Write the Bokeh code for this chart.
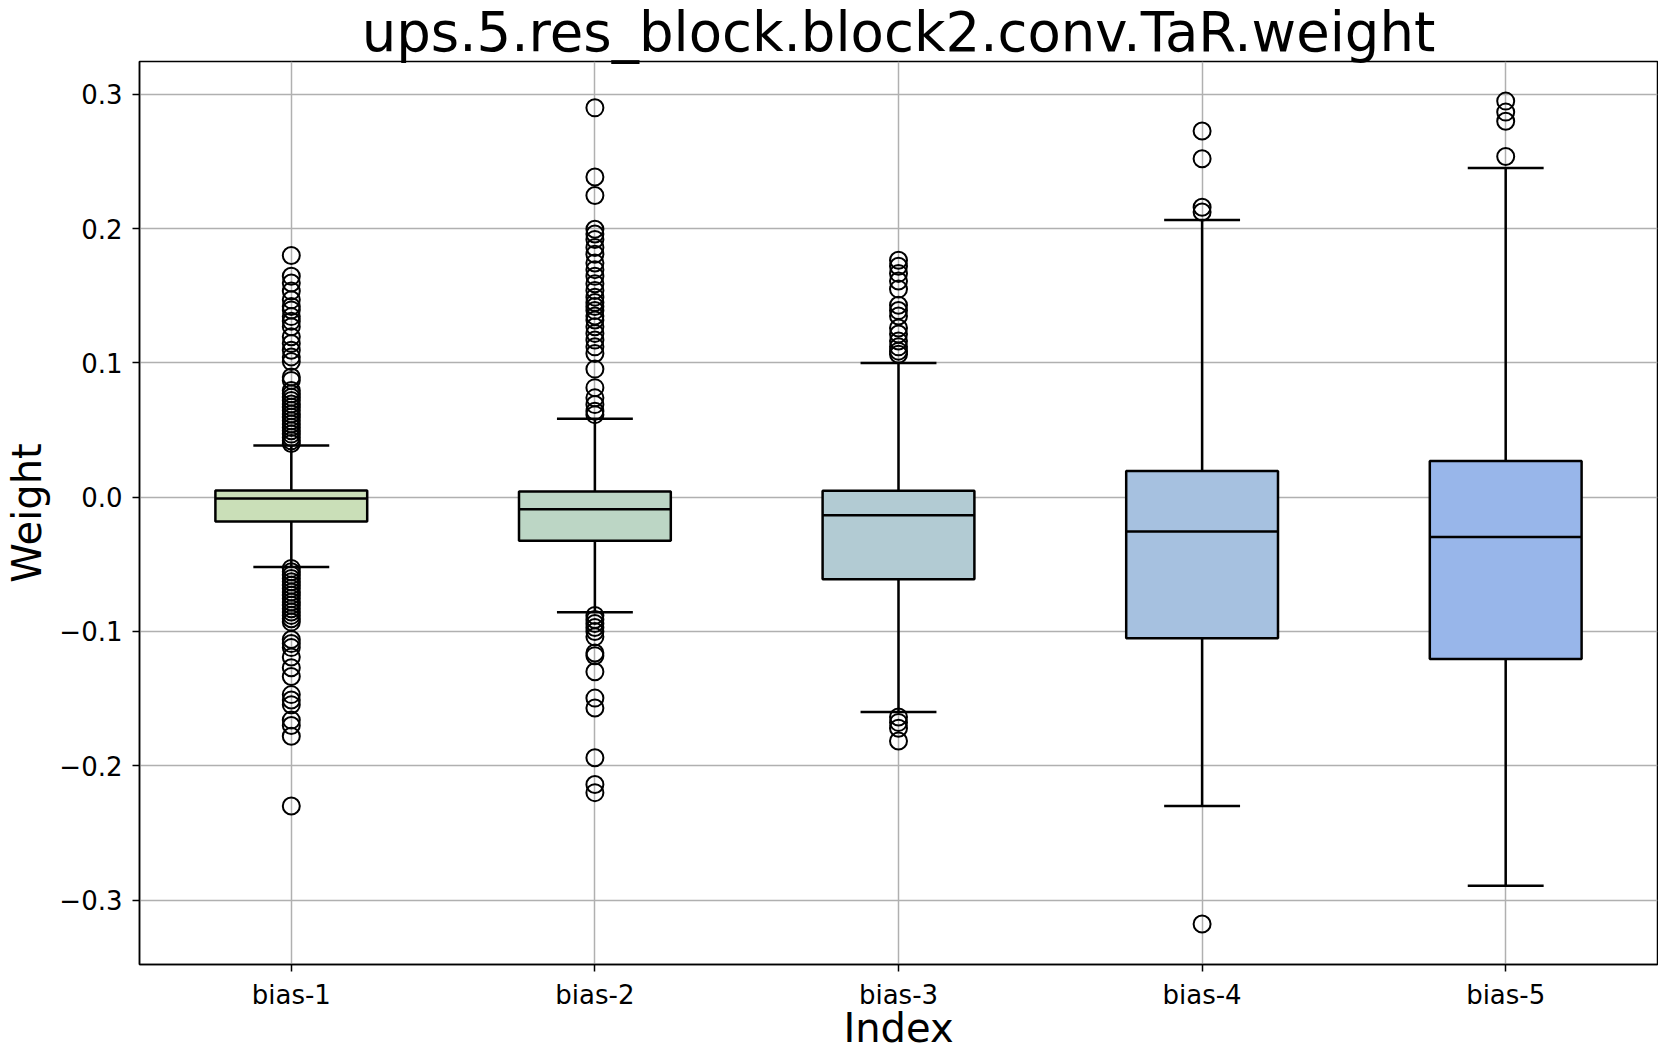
from bokeh.plotting import figure
from bokeh.models import FixedTicker, CustomJSTickFormatter, ColumnDataSource, FactorRange, Range1d
from bokeh.transform import dodge
from bokeh.embed import file_html
from bokeh.resources import INLINE

categories = ["bias-1", "bias-2", "bias-3", "bias-4", "bias-5"]
colors = ["#cadfb8", "#bcd6c5", "#b2cbd3", "#a6c1e0", "#98b6ea"]
q1 = [-0.018, -0.0325, -0.061, -0.105, -0.1204]
median = [-0.001, -0.0089, -0.0135, -0.0255, -0.0297]
q3 = [0.0050, 0.0042, 0.0048, 0.0196, 0.0270]
whisker_low = [-0.052, -0.0856, -0.160, -0.230, -0.2894]
whisker_high = [0.0385, 0.0585, 0.100, 0.2065, 0.2452]

outliers_1 = [0.180, 0.1645, 0.1595, 0.1535, 0.147, 0.142, 0.1395, 0.1345, 0.131, 0.127,
              0.1195, 0.1145, 0.1095, 0.1045, 0.101, 0.0895, 0.087, 0.0795, 0.077, 0.0745,
              0.072, 0.0695, 0.067, 0.0645, 0.062, 0.0595, 0.057, 0.0545, 0.052, 0.0495,
              0.047, 0.0445, 0.042, 0.040,
              -0.053, -0.0555, -0.058, -0.0605, -0.063, -0.0655, -0.068, -0.0705, -0.073,
              -0.0755, -0.078, -0.0805, -0.083, -0.0855, -0.088, -0.0905, -0.093, -0.106,
              -0.109, -0.112, -0.119, -0.127, -0.1335, -0.147, -0.151, -0.1545, -0.166,
              -0.170, -0.178, -0.230]
outliers_2 = [0.290, 0.2385, 0.2247, 0.1996, 0.196, 0.192, 0.186, 0.181, 0.1745, 0.1695,
              0.1645, 0.159, 0.154, 0.149, 0.145, 0.142, 0.139, 0.135, 0.132, 0.127, 0.122,
              0.117, 0.112, 0.107, 0.0954, 0.0816, 0.074, 0.069, 0.064, 0.0615,
              -0.088, -0.091, -0.094, -0.097, -0.100, -0.104, -0.116, -0.118, -0.130,
              -0.1496, -0.157, -0.194, -0.214, -0.220]
outliers_3 = [0.1765, 0.172, 0.1667, 0.161, 0.155, 0.143, 0.139, 0.135, 0.126, 0.1216,
              0.1163, 0.112, 0.1088, 0.1065,
              -0.1637, -0.1677, -0.172, -0.1816]
outliers_4 = [0.2727, 0.2521, 0.216, 0.2124, -0.3178]
outliers_5 = [0.295, 0.2868, 0.280, 0.2538]
y_ticks = [-0.3, -0.2, -0.1, 0.0, 0.1, 0.2, 0.3]
title_text = "ups.5.res_block.block2.conv.TaR.weight"

FONT = "DejaVu Sans"

p = figure(x_range=FactorRange(factors=categories), y_range=Range1d(-0.348, 0.3245),
           width=1658, height=1056, output_backend="svg", toolbar_location=None,
           min_border_left=139, min_border_right=1, min_border_top=60, min_border_bottom=92,
           title=title_text)
p.title.text_font = FONT
p.title.text_font_size = "54.5px"
p.title.text_font_style = "normal"
p.title.text_color = "black"
p.title.align = "center"
p.title.standoff = -5

src = ColumnDataSource(dict(cat=categories, q1=q1, med=median, q3=q3,
                            lo=whisker_low, hi=whisker_high, color=colors))

# whiskers
p.segment(x0="cat", y0="q3", x1="cat", y1="hi", source=src, line_color="black", line_width=2.5)
p.segment(x0="cat", y0="q1", x1="cat", y1="lo", source=src, line_color="black", line_width=2.5)
p.segment(x0=dodge("cat", -0.125, range=p.x_range), y0="hi",
          x1=dodge("cat", 0.125, range=p.x_range), y1="hi", source=src,
          line_color="black", line_width=2.5)
p.segment(x0=dodge("cat", -0.125, range=p.x_range), y0="lo",
          x1=dodge("cat", 0.125, range=p.x_range), y1="lo", source=src,
          line_color="black", line_width=2.5)
# boxes
p.vbar(x="cat", width=0.5, bottom="q1", top="q3", source=src, fill_color="color",
       line_color="black", line_width=2.5)
p.segment(x0=dodge("cat", -0.25, range=p.x_range), y0="med",
          x1=dodge("cat", 0.25, range=p.x_range), y1="med", source=src,
          line_color="black", line_width=2.5)

# outliers
ox, oy = [], []
for cat, vals in zip(categories, [outliers_1, outliers_2, outliers_3, outliers_4, outliers_5]):
    ox += [cat] * len(vals)
    oy += vals
p.scatter(x=ox, y=oy, marker="circle", size=17, fill_color=None, line_color="black", line_width=2)

# grid
for g in (p.xgrid, p.ygrid):
    g.grid_line_color = "#b0b0b0"
    g.grid_line_width = 1.5
p.ygrid.ticker = FixedTicker(ticks=y_ticks)

p.yaxis.ticker = FixedTicker(ticks=y_ticks)
p.yaxis.formatter = CustomJSTickFormatter(code="return tick.toFixed(1).replace('-', '\u2212');")

for ax in (p.xaxis, p.yaxis):
    ax.axis_line_color = "black"
    ax.axis_line_width = 1.5
    ax.major_tick_line_color = "black"
    ax.major_tick_line_width = 1.5
    ax.major_tick_out = 7
    ax.major_tick_in = 0
    ax.minor_tick_line_color = None
    ax.major_label_text_font = FONT
    ax.major_label_text_font_size = "26px"
    ax.major_label_text_color = "black"
    ax.axis_label_text_font = FONT
    ax.axis_label_text_font_size = "40px"
    ax.axis_label_text_font_style = "normal"
    ax.axis_label_text_color = "black"

p.xaxis.axis_label = "Index"
p.yaxis.axis_label = "Weight"
p.xaxis.major_label_standoff = 8
p.yaxis.major_label_standoff = 10
p.xaxis.axis_label_standoff = -8
p.yaxis.axis_label_standoff = 6

p.outline_line_color = "black"
p.outline_line_width = 1.5
p.outline_line_alpha = 1.0

open("out.html", "w").write(file_html(p, INLINE))
